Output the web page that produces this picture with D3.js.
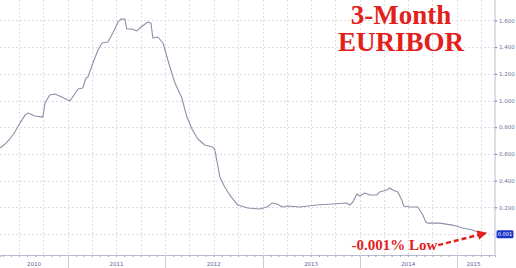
<!DOCTYPE html>
<html><head><meta charset="utf-8">
<script src="https://cdn.jsdelivr.net/npm/d3@7"></script>
<style>html,body{margin:0;padding:0;background:#fff;overflow:hidden}</style>
</head><body>
<svg id="c" width="516" height="268"></svg>
<script>
const dates = ["2010-04-21","2010-05-10","2010-05-28","2010-06-16","2010-07-05","2010-07-24","2010-08-04","2010-08-30","2010-09-29","2010-10-07","2010-10-25","2010-11-13","2010-12-09","2011-01-08","2011-01-27","2011-02-08","2011-02-26","2011-03-10","2011-03-17","2011-04-05","2011-04-24","2011-05-09","2011-05-31","2011-06-19","2011-07-08","2011-07-19","2011-08-03","2011-08-10","2011-08-29","2011-09-17","2011-09-28","2011-10-28","2011-11-09","2011-11-16","2011-12-05","2011-12-24","2012-01-19","2012-02-07","2012-03-04","2012-03-23","2012-04-11","2012-05-03","2012-05-29","2012-06-28","2012-07-06","2012-07-25","2012-08-12","2012-08-31","2012-09-30","2012-11-07","2012-12-22","2013-01-17","2013-02-05","2013-02-24","2013-03-18","2013-04-06","2013-05-21","2013-07-24","2013-09-22","2013-11-13","2013-11-25","2013-12-06","2013-12-21","2014-01-01","2014-01-20","2014-02-08","2014-03-06","2014-03-17","2014-04-13","2014-04-24","2014-05-05","2014-05-24","2014-06-08","2014-06-15","2014-07-08","2014-08-07","2014-08-26","2014-09-06","2014-09-13","2014-10-28","2014-12-16","2015-01-23","2015-03-01","2015-04-10"];
const values = [0.644,0.674,0.712,0.764,0.831,0.891,0.906,0.884,0.876,0.981,1.041,1.049,1.026,0.996,1.049,1.086,1.094,1.169,1.176,1.281,1.378,1.431,1.438,1.506,1.588,1.610,1.610,1.536,1.536,1.521,1.543,1.588,1.581,1.468,1.476,1.431,1.251,1.131,1.019,0.876,0.787,0.712,0.667,0.652,0.629,0.427,0.352,0.292,0.217,0.195,0.187,0.202,0.232,0.225,0.202,0.210,0.202,0.217,0.225,0.232,0.217,0.240,0.300,0.285,0.307,0.292,0.292,0.315,0.330,0.345,0.330,0.315,0.255,0.210,0.202,0.202,0.142,0.090,0.082,0.082,0.067,0.045,0.030,-0.001];
const yTicks = [0.2,0.4,0.6,0.8,1.0,1.2,1.4,1.6];
const yearLabels = ["2010","2011","2012","2013","2014","2015"];
const lastLabel = "0.001";
const titleLines = ["3-Month","EURIBOR"];
const annotation = "-0.001% Low";

const parse = d3.timeParse("%Y-%m-%d");
const data = dates.map((d,i)=>({date:parse(d), v:values[i]}));

const W=516,H=268, plotR=495, plotB=255;
const x = d3.scaleTime().domain([new Date(2010,3,21), new Date(2015,4,24)]).range([0,plotR]);
const y = d3.scaleLinear().domain([-0.157,1.753]).range([plotB,0]);
const svg = d3.select("#c");

// horizontal grid
svg.append("g").selectAll("line").data([0].concat(yTicks)).join("line")
  .attr("x1",0).attr("x2",plotR).attr("y1",d=>Math.round(y(d))+0.5).attr("y2",d=>Math.round(y(d))+0.5)
  .attr("stroke","#dedee4").attr("stroke-dasharray","2,2");
// vertical quarterly grid
const quarters = d3.timeMonth.every(3).range(x.domain()[0], x.domain()[1]);
svg.append("g").selectAll("line").data(quarters).join("line")
  .attr("x1",d=>Math.round(x(d))+0.5).attr("x2",d=>Math.round(x(d))+0.5).attr("y1",0).attr("y2",plotB)
  .attr("stroke","#dedee4").attr("stroke-dasharray","2,2");

// bottom axis
const bx = svg.append("g").attr("transform",`translate(0,${plotB})`)
  .call(d3.axisBottom(x).ticks(d3.timeMonth.every(1)).tickSize(2).tickFormat(""));
bx.select(".domain").attr("stroke","#b9bccf");
bx.selectAll(".tick line").attr("stroke","#9aa0bf");
const years = d3.timeYear.range(new Date(2011,0,1), x.domain()[1]);
svg.append("g").selectAll("line").data(years).join("line")
  .attr("x1",d=>Math.round(x(d))+0.5).attr("x2",d=>Math.round(x(d))+0.5)
  .attr("y1",plotB).attr("y2",H).attr("stroke","#c8cad8");
svg.append("g").selectAll("text").data(yearLabels).join("text")
  .attr("x",d=>{const a=Math.max(x(new Date(+d,0,1)),0), b=Math.min(x(new Date(+d+1,0,1)),plotR*0.99); return (a+b)/2;})
  .attr("y",266).attr("text-anchor","middle")
  .attr("font-family","DejaVu Sans").attr("font-size",5.5).attr("fill","#5560a0").text(d=>d);

// right axis
const ry = svg.append("g").attr("transform",`translate(${plotR},0)`)
  .call(d3.axisRight(y).tickValues(yTicks).tickSize(2).tickPadding(2).tickFormat(d3.format(".3f")));
ry.select(".domain").attr("stroke","#b9bccf").attr("d",`M0,0V${plotB}`);
ry.selectAll(".tick line").attr("stroke","#6a70a8");
ry.selectAll("text").attr("font-family","DejaVu Sans").attr("font-size",5.5).attr("fill","#6a70a0");

// line
svg.append("path").datum(data)
  .attr("fill","none").attr("stroke","#8d90aa").attr("stroke-width",1.1).attr("stroke-linejoin","round")
  .attr("d",d3.line().x(d=>x(d.date)).y(d=>y(d.v)));

// last value box
const last = data[data.length-1];
svg.append("rect").attr("x",plotR+1.5).attr("y",y(last.v)-4).attr("width",17).attr("height",8).attr("rx",1.5)
  .attr("fill","#1a36c8");
svg.append("text").attr("x",plotR+10).attr("y",y(last.v)+2).attr("text-anchor","middle")
  .attr("font-family","DejaVu Sans").attr("font-size",5).attr("fill","#fff").text(lastLabel);

// title (one text block, two lines)
svg.append("text").attr("text-anchor","middle")
  .attr("font-family","Liberation Serif").attr("font-weight","bold").attr("font-size",27)
  .attr("fill","#e3211c")
  .selectAll("tspan").data(titleLines).join("tspan")
  .attr("x",401).attr("y",(d,i)=>24+i*27).text(d=>d);

// annotation
const tipX = x(last.date)+2, tipY = y(last.v)-1;
svg.append("defs").append("marker").attr("id","ah").attr("viewBox","0 0 10 10").attr("refX",8).attr("refY",5)
  .attr("markerWidth",4).attr("markerHeight",4).attr("orient","auto")
  .append("path").attr("d","M0,0L10,5L0,10z").attr("fill","#e3211c");
svg.append("line").attr("x1",tipX-47).attr("y1",tipY+12).attr("x2",tipX).attr("y2",tipY)
  .attr("stroke","#e3211c").attr("stroke-width",2.4).attr("stroke-dasharray","5,3").attr("marker-end","url(#ah)");
svg.append("text").attr("x",tipX-48).attr("y",250).attr("text-anchor","end")
  .attr("font-family","Liberation Serif").attr("font-weight","bold").attr("font-size",15)
  .attr("fill","#e3211c").text(annotation);
</script>
</body></html>
